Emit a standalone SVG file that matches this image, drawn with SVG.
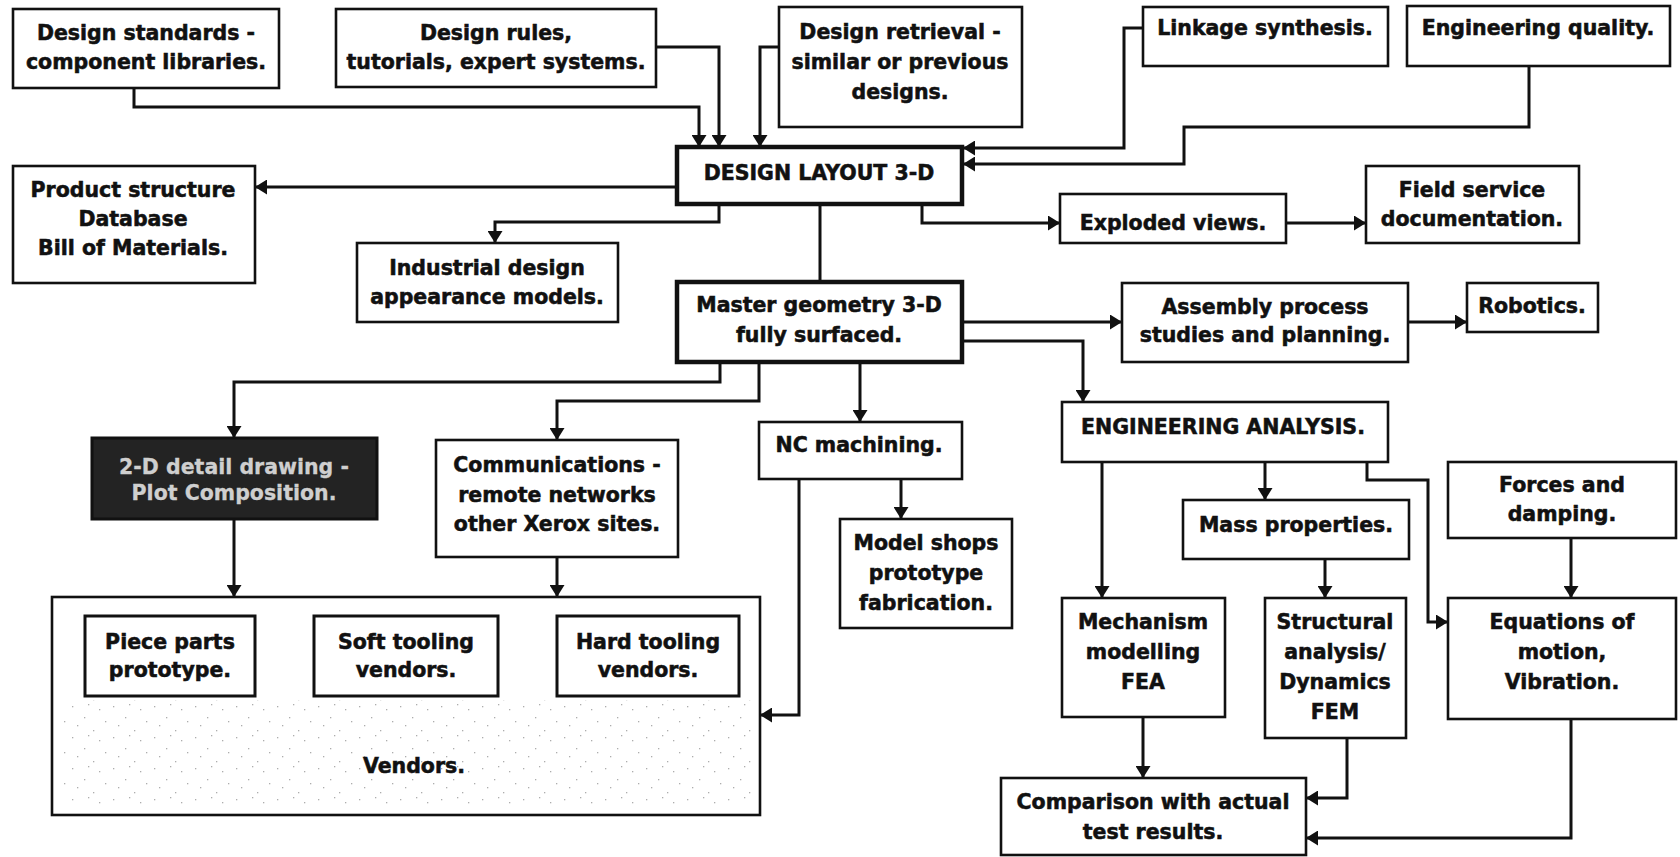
<svg xmlns="http://www.w3.org/2000/svg" width="1680" height="857" viewBox="0 0 1680 857">
  <defs>
    <style>
      .box { fill: #ffffff; stroke: #111111; stroke-width: 2.6; }
      .heavy { fill: #ffffff; stroke: #111111; stroke-width: 4.5; }
      .inner { fill: none; stroke: #111111; stroke-width: 3; }
      .dark { fill: #232323; stroke: #111111; stroke-width: 3; }
      .lbl { font-family: "DejaVu Sans", "Liberation Sans", sans-serif; font-weight: bold; font-size: 20.5px; fill: #111111; stroke: #111111; stroke-width: 0.55; text-anchor: middle; }
      .rev { fill: #cfcfcf; stroke: #cfcfcf; stroke-width: 0.3; }
      .wire { fill: none; stroke: #111111; stroke-width: 3; stroke-linejoin: miter; }
      .arr { marker-end: url(#ah); }
    </style>
    <marker id="ah" viewBox="0 0 12 15" refX="12" refY="7.5" markerWidth="12" markerHeight="15" markerUnits="userSpaceOnUse" orient="auto">
      <path d="M0,0 L12,7.5 L0,15 z" fill="#111111"/>
    </marker>
    <!-- sparse grey stipple used as the halftone texture of the vendors panel -->
    <pattern id="stipple" width="41" height="31" patternUnits="userSpaceOnUse">
      <g fill="#6a6a6a">
        <rect x="2" y="4" width="1.3" height="1.3"/>
        <rect x="11" y="17" width="1.3" height="1.3"/>
        <rect x="23" y="8" width="1.3" height="1.3"/>
        <rect x="31" y="24" width="1.3" height="1.3"/>
        <rect x="17" y="27" width="1.3" height="1.3"/>
        <rect x="36" y="12" width="1.3" height="1.3"/>
        <rect x="6" y="22" width="1.3" height="1.3"/>
      </g>
    </pattern>
  </defs>

  <rect width="1680" height="857" fill="#ffffff"/>

  <!-- connectors -->
  <g id="connectors">
    <path class="wire arr" d="M134,88 V107 H699 V147"/>
    <path class="wire arr" d="M656,47 H719 V147"/>
    <path class="wire arr" d="M779,47 H760 V147"/>
    <path class="wire arr" d="M1143,28 H1124 V148 H963"/>
    <path class="wire arr" d="M1529,66 V127 H1184 V164 H963"/>
    <path class="wire arr" d="M677,187 H255"/>
    <path class="wire arr" d="M719,204 V222 H495 V243"/>
    <path class="wire arr" d="M922,204 V223 H1060"/>
    <path class="wire" d="M820,204 V282"/>
    <path class="wire arr" d="M1286,223 H1366"/>
    <path class="wire arr" d="M720,362 V382 H234 V438"/>
    <path class="wire arr" d="M759,362 V401 H557 V440"/>
    <path class="wire arr" d="M860,362 V422"/>
    <path class="wire arr" d="M901,479 V519"/>
    <path class="wire arr" d="M799,479 V715 H760"/>
    <path class="wire arr" d="M962,322 H1122"/>
    <path class="wire arr" d="M962,341 H1083 V402"/>
    <path class="wire arr" d="M1408,322 H1467"/>
    <path class="wire arr" d="M234,519 V597"/>
    <path class="wire arr" d="M557,557 V597"/>
    <path class="wire arr" d="M1102,462 V598"/>
    <path class="wire arr" d="M1265,462 V500"/>
    <path class="wire arr" d="M1367,462 V480 H1428 V622 H1448"/>
    <path class="wire arr" d="M1325,559 V598"/>
    <path class="wire arr" d="M1571,538 V598"/>
    <path class="wire arr" d="M1143,717 V778"/>
    <path class="wire arr" d="M1347,738 V798 H1306"/>
    <path class="wire arr" d="M1571,719 V838 H1306"/>
  </g>

  <g id="design-standards">
    <rect class="box" x="13" y="9" width="266" height="79"/>
    <text class="lbl" x="146" y="40">Design standards -</text>
    <text class="lbl" x="146" y="69">component libraries.</text>
  </g>

  <g id="design-rules">
    <rect class="box" x="336" y="9" width="320" height="78"/>
    <text class="lbl" x="496" y="40">Design rules,</text>
    <text class="lbl" x="496" y="69">tutorials, expert systems.</text>
  </g>

  <g id="design-retrieval">
    <rect class="box" x="779" y="7" width="243" height="120"/>
    <text class="lbl" x="900" y="39">Design retrieval -</text>
    <text class="lbl" x="900" y="69">similar or previous</text>
    <text class="lbl" x="900" y="99">designs.</text>
  </g>

  <g id="linkage-synthesis">
    <rect class="box" x="1143" y="7" width="245" height="59"/>
    <text class="lbl" x="1265" y="35">Linkage synthesis.</text>
  </g>

  <g id="engineering-quality">
    <rect class="box" x="1407" y="6" width="263" height="60"/>
    <text class="lbl" x="1538" y="35">Engineering quality.</text>
  </g>

  <g id="design-layout">
    <rect class="heavy" x="677" y="147" width="285" height="57"/>
    <text class="lbl" x="819" y="180" font-size="21.5">DESIGN LAYOUT 3-D</text>
  </g>

  <g id="product-structure">
    <rect class="box" x="13" y="166" width="242" height="117"/>
    <text class="lbl" x="133" y="197">Product structure</text>
    <text class="lbl" x="133" y="226">Database</text>
    <text class="lbl" x="133" y="255">Bill of Materials.</text>
  </g>

  <g id="industrial-design">
    <rect class="box" x="357" y="243" width="261" height="79"/>
    <text class="lbl" x="487" y="275">Industrial design</text>
    <text class="lbl" x="487" y="304">appearance models.</text>
  </g>

  <g id="exploded-views">
    <rect class="box" x="1060" y="194" width="226" height="49"/>
    <text class="lbl" x="1173" y="230">Exploded views.</text>
  </g>

  <g id="field-service">
    <rect class="box" x="1366" y="166" width="213" height="77"/>
    <text class="lbl" x="1472" y="197">Field service</text>
    <text class="lbl" x="1472" y="226">documentation.</text>
  </g>

  <g id="master-geometry">
    <rect class="heavy" x="677" y="282" width="285" height="80"/>
    <text class="lbl" x="819" y="312">Master geometry 3-D</text>
    <text class="lbl" x="819" y="342">fully surfaced.</text>
  </g>

  <g id="assembly-process">
    <rect class="box" x="1122" y="283" width="286" height="79"/>
    <text class="lbl" x="1265" y="314">Assembly process</text>
    <text class="lbl" x="1265" y="342">studies and planning.</text>
  </g>

  <g id="robotics">
    <rect class="box" x="1467" y="283" width="131" height="49"/>
    <text class="lbl" x="1532" y="313">Robotics.</text>
  </g>

  <g id="detail-drawing">
    <rect class="dark" x="92" y="438" width="285" height="81"/>
    <text class="lbl rev" x="234" y="474">2-D detail drawing -</text>
    <text class="lbl rev" x="234" y="500">Plot Composition.</text>
  </g>

  <g id="communications">
    <rect class="box" x="436" y="440" width="242" height="117"/>
    <text class="lbl" x="557" y="472">Communications -</text>
    <text class="lbl" x="557" y="502">remote networks</text>
    <text class="lbl" x="557" y="531">other Xerox sites.</text>
  </g>

  <g id="nc-machining">
    <rect class="box" x="759" y="422" width="203" height="57"/>
    <text class="lbl" x="859" y="452">NC machining.</text>
  </g>

  <g id="model-shops">
    <rect class="box" x="840" y="519" width="172" height="109"/>
    <text class="lbl" x="926" y="550">Model shops</text>
    <text class="lbl" x="926" y="580">prototype</text>
    <text class="lbl" x="926" y="610">fabrication.</text>
  </g>

  <g id="vendors">
    <rect class="box" x="52" y="597" width="708" height="218" stroke-width="4"/>
    <rect x="60" y="700" width="692" height="108" fill="url(#stipple)" opacity="0.55"/>
    <g id="piece-parts">
      <rect class="inner" x="85" y="616" width="170" height="80"/>
      <text class="lbl" x="170" y="649">Piece parts</text>
      <text class="lbl" x="170" y="677">prototype.</text>
    </g>
    <g id="soft-tooling">
      <rect class="inner" x="314" y="616" width="184" height="80"/>
      <text class="lbl" x="406" y="649">Soft tooling</text>
      <text class="lbl" x="406" y="677">vendors.</text>
    </g>
    <g id="hard-tooling">
      <rect class="inner" x="557" y="616" width="182" height="80"/>
      <text class="lbl" x="648" y="649">Hard tooling</text>
      <text class="lbl" x="648" y="677">vendors.</text>
    </g>
    <text class="lbl" x="414" y="773">Vendors.</text>
  </g>

  <g id="engineering-analysis">
    <rect class="box" x="1062" y="402" width="326" height="60"/>
    <text class="lbl" x="1223" y="434">ENGINEERING ANALYSIS.</text>
  </g>

  <g id="mass-properties">
    <rect class="box" x="1183" y="500" width="226" height="59"/>
    <text class="lbl" x="1296" y="532">Mass properties.</text>
  </g>

  <g id="forces-damping">
    <rect class="box" x="1448" y="462" width="228" height="76"/>
    <text class="lbl" x="1562" y="492">Forces and</text>
    <text class="lbl" x="1562" y="521">damping.</text>
  </g>

  <g id="mechanism-modelling">
    <rect class="box" x="1062" y="598" width="163" height="119"/>
    <text class="lbl" x="1143" y="629">Mechanism</text>
    <text class="lbl" x="1143" y="659">modelling</text>
    <text class="lbl" x="1143" y="689">FEA</text>
  </g>

  <g id="structural-analysis">
    <rect class="box" x="1265" y="598" width="141" height="140"/>
    <text class="lbl" x="1335" y="629">Structural</text>
    <text class="lbl" x="1335" y="659">analysis/</text>
    <text class="lbl" x="1335" y="689">Dynamics</text>
    <text class="lbl" x="1335" y="719">FEM</text>
  </g>

  <g id="equations-of-motion">
    <rect class="box" x="1448" y="598" width="228" height="121"/>
    <text class="lbl" x="1562" y="629">Equations of</text>
    <text class="lbl" x="1562" y="659">motion,</text>
    <text class="lbl" x="1562" y="689">Vibration.</text>
  </g>

  <g id="comparison">
    <rect class="box" x="1001" y="778" width="305" height="77"/>
    <text class="lbl" x="1153" y="809">Comparison with actual</text>
    <text class="lbl" x="1153" y="839">test results.</text>
  </g>
</svg>
